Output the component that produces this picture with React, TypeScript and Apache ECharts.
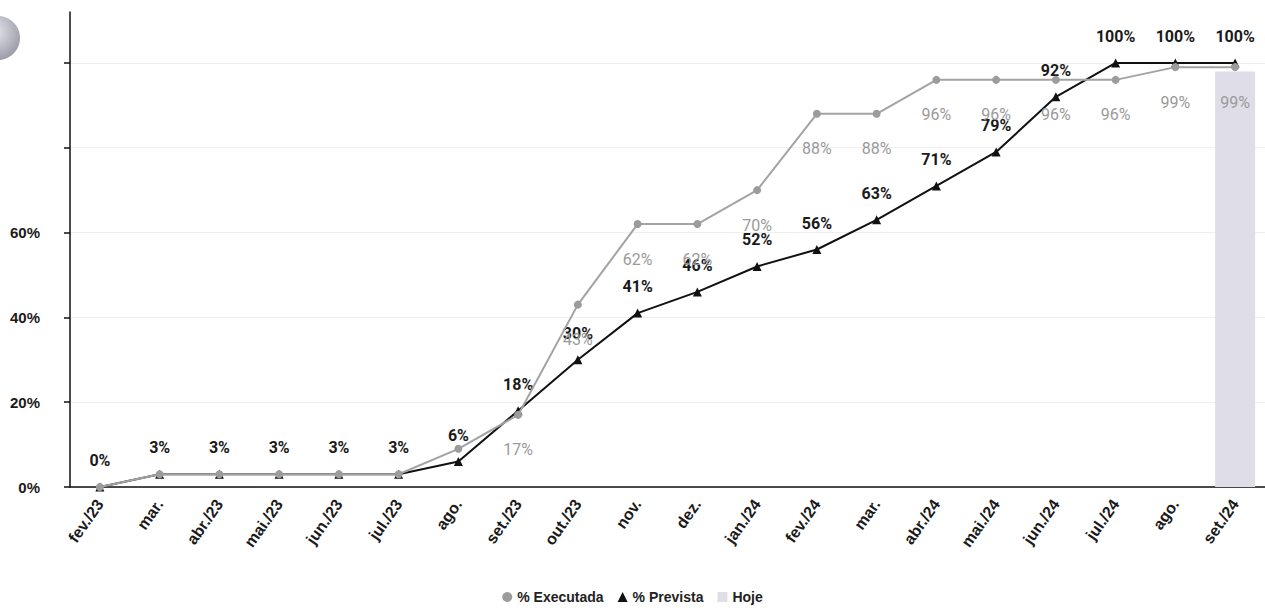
import React, { useEffect, useRef } from "react";
import * as echarts from "echarts";

const categories = [
  "fev./23", "mar.", "abr./23", "mai./23", "jun./23", "jul./23", "ago.", "set./23", "out./23", "nov.",
  "dez.", "jan./24", "fev./24", "mar.", "abr./24", "mai./24", "jun./24", "jul./24", "ago.", "set./24",
];
const executada = [0, 3, 3, 3, 3, 3, 9, 17, 43, 62, 62, 70, 88, 88, 96, 96, 96, 96, 99, 99];
const executadaLabelHidden = [true, true, true, true, true, true, true];
const prevista = [0, 3, 3, 3, 3, 3, 6, 18, 30, 41, 46, 52, 56, 63, 71, 79, 92, 100, 100, 100];
const hojeIndex = 19;
const hojeValue = 98;
const yTickValues = [0, 20, 40, 60, 80, 100];
const yLabelValues = [0, 20, 40, 60];

export default function App() {
  const ref = useRef<HTMLDivElement>(null);
  useEffect(() => {
    if (!ref.current) return;
    const chart = echarts.init(ref.current, null, { renderer: "svg" });
    const hojeData = categories.map((_, i) => (i === hojeIndex ? hojeValue : null));
    const execData = executada.map((v, i) => ({
      value: v,
      label: { show: !executadaLabelHidden[i] },
    }));
    chart.setOption({
      animation: false,
      backgroundColor: "#ffffff",
      graphic: [
        {
          type: "circle",
          shape: { cx: -2, cy: 38, r: 22 },
          style: {
            fill: new echarts.graphic.RadialGradient(0.4, 0.35, 0.8, [
              { offset: 0, color: "#e8e8f0" },
              { offset: 1, color: "#8e8e9c" },
            ]),
          },
        },
      ],
      legend: {
        bottom: 4,
        left: "center",
        itemWidth: 10,
        itemHeight: 10,
        itemGap: 14,
        textStyle: { fontFamily: "Liberation Sans", fontWeight: "bold", fontSize: 14, color: "#222" },
        data: [
          { name: "% Executada", icon: "circle", itemStyle: { color: "#9c9c9c" } },
          { name: "% Prevista", icon: "triangle", itemStyle: { color: "#111" } },
          { name: "Hoje", icon: "rect", itemStyle: { color: "#dedde8" } },
        ],
      },
      grid: { left: 70, right: 0, top: 12, bottom: 126, containLabel: false },
      xAxis: {
        type: "category",
        data: categories,
        boundaryGap: true,
        axisLine: { lineStyle: { color: "#111", width: 1.5 } },
        axisTick: { alignWithLabel: true, length: 5, lineStyle: { color: "#777" } },
        axisLabel: {
          rotate: 55,
          interval: 0,
          margin: 14,
          fontFamily: "Liberation Sans",
          fontWeight: "bold",
          fontSize: 16,
          color: "#1a1a1a",
        },
      },
      yAxis: {
        type: "value",
        min: 0,
        max: 112,
        interval: 20,
        axisLine: { show: true, lineStyle: { color: "#111", width: 1.5 } },
        axisTick: { show: true, length: 6, customValues: yTickValues, lineStyle: { color: "#111", width: 1.5 } },
        axisLabel: {
          customValues: yLabelValues,
          formatter: (v: number) => (v <= 60 ? v + "%" : ""),
          fontFamily: "Liberation Sans",
          fontWeight: "bold",
          fontSize: 15,
          color: "#1a1a1a",
          margin: 30,
        },
        splitLine: { show: true, lineStyle: { color: "#efefef", width: 1 } },
      },
      series: [
        {
          name: "Hoje",
          type: "bar",
          data: hojeData,
          barWidth: 40,
          itemStyle: { color: "#dedde8" },
          z: 1,
        },
        {
          name: "% Prevista",
          type: "line",
          data: prevista,
          symbol: "triangle",
          symbolSize: 9,
          lineStyle: { color: "#111", width: 2 },
          itemStyle: { color: "#111" },
          label: {
            show: true,
            position: "top",
            distance: 14,
            formatter: "{c}%",
            fontFamily: "Roboto",
            fontWeight: "bold",
            fontSize: 16,
            color: "#1a1a1a",
          },
          z: 3,
        },
        {
          name: "% Executada",
          type: "line",
          data: execData,
          symbol: "circle",
          symbolSize: 8,
          lineStyle: { color: "#a3a3a3", width: 2 },
          itemStyle: { color: "#9c9c9c" },
          label: {
            show: true,
            position: "bottom",
            distance: 23,
            formatter: "{c}%",
            fontFamily: "Roboto",
            fontSize: 16,
            color: "#9a9a9a",
          },
          z: 4,
        },
      ],
    });
    return () => chart.dispose();
  }, []);
  return (
    <div
      ref={ref}
      style={{ position: "fixed", left: 0, top: 0, width: 1265, height: 613, background: "#fff" }}
    />
  );
}
